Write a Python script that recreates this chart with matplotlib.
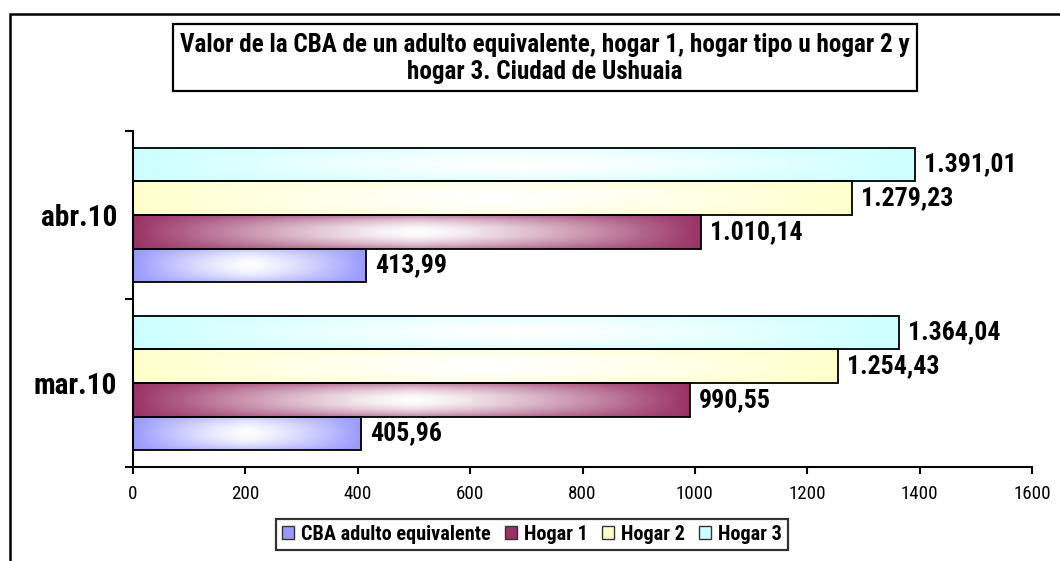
import numpy as np
import matplotlib
matplotlib.use("Agg")
import matplotlib.pyplot as plt
from matplotlib.patches import Rectangle, Patch
from matplotlib import font_manager
from matplotlib.font_manager import FontProperties
import matplotlib.colors as mcolors

# ---- data ----
categories = ["mar.10", "abr.10"]
series_names = ["CBA adulto equivalente", "Hogar 1", "Hogar 2", "Hogar 3"]
cba_values = [405.96, 413.99]
hogar1_values = [990.55, 1010.14]
hogar2_values = [1254.43, 1279.23]
hogar3_values = [1364.04, 1391.01]
series_colors = ["#9999FF", "#993366", "#FFFFCC", "#CCFFFF"]
x_ticks = [0, 200, 400, 600, 800, 1000, 1200, 1400, 1600]
title_lines = ["Valor de la CBA de un adulto equivalente, hogar 1, hogar tipo u hogar 2 y",
               "hogar 3. Ciudad de Ushuaia"]

all_values = [cba_values, hogar1_values, hogar2_values, hogar3_values]


# ---- pick a condensed sans font if one is installed ----
def _wnum(w):
    if isinstance(w, str):
        return font_manager.weight_dict.get(w, 400)
    return int(w)


def find_font(bold):
    target = 700 if bold else 400
    pref = ["Liberation Sans Narrow", "Arial Narrow", "Roboto Condensed",
            "Noto Sans", "DejaVu Sans", "Open Sans Condensed", "Open Sans"]
    ents = font_manager.fontManager.ttflist
    for pn in pref:
        best = None
        for f in ents:
            if f.name != pn or f.style != "normal":
                continue
            cond = ("Narrow" in f.name or "Condensed" in f.name or
                    "Narrow" in f.fname or "Condensed" in f.fname or
                    str(f.stretch) in ("condensed", "semi-condensed", "extra-condensed",
                                       "ultra-condensed"))
            if not cond:
                continue
            if "Semi" in f.fname or "Extra" in f.fname:
                continue
            d = abs(_wnum(f.weight) - target)
            if best is None or d < best[0]:
                best = (d, f.fname)
        if best is not None and best[0] <= 100:
            return best[1]
    return font_manager.findfont(FontProperties(family="Liberation Sans",
                                                weight="bold" if bold else "normal"))


BOLD_FILE = find_font(True)
REG_FILE = find_font(False)


def fp(bold, size):
    return FontProperties(fname=BOLD_FILE if bold else REG_FILE, size=size)


def fmt_es(v):
    s = f"{v:,.2f}"
    return s.replace(",", "X").replace(".", ",").replace("X", ".")


fig = plt.figure(figsize=(10.6, 5.61), dpi=100)
renderer = fig.canvas.get_renderer()


def fit_size(text, bold, target_px, ref=10.0):
    t = fig.text(0, 0, text, fontproperties=fp(bold, ref))
    w = t.get_window_extent(renderer).width
    t.remove()
    return ref * target_px / w


val_size = fit_size("1.391,01", True, 93)
cat_size = fit_size("abr.10", True, 77)
title_size = fit_size(title_lines[0], True, 730)
tick_size = fit_size("1600", False, 37)

ax = fig.add_axes([133 / 1060, 1 - 467 / 561, (1032 - 133) / 1060, (467 - 131) / 561])

y = np.arange(len(categories))
h = 0.2
xmin, xmax = 0, 1600


def gradient_img(color, n=64, m=256):
    base = np.array(mcolors.to_rgb(color))
    u = np.linspace(-1, 1, m)[None, :]
    v = np.linspace(-1, 1, n)[:, None]
    f = (1 - np.abs(u) ** 1.3) * (1 - 0.6 * v ** 2)
    f = np.clip(f, 0, 1)[..., None]
    return base + (1 - base) * f


for i, (vals, col, name) in enumerate(zip(all_values, series_colors, series_names)):
    offs = (i - 1.5) * h
    bars = ax.barh(y + offs, vals, height=h, fill=False, edgecolor="black",
                   linewidth=1.3, zorder=3)
    img = gradient_img(col)
    for b, v in zip(bars, vals):
        x0, y0 = b.get_x(), b.get_y()
        ax.imshow(img, extent=[x0, x0 + b.get_width(), y0, y0 + b.get_height()],
                  aspect="auto", interpolation="bilinear", zorder=2, origin="lower")
        ax.annotate(fmt_es(v), xy=(x0 + b.get_width(), y0 + b.get_height() / 2),
                    xytext=(6.5, 0), textcoords="offset points", va="center", ha="left",
                    fontproperties=fp(True, val_size), color="black", zorder=4)

ax.set_xlim(xmin, xmax)
ax.set_ylim(-0.5, len(categories) - 0.5)

# axes styling
for s in ["top", "right"]:
    ax.spines[s].set_visible(False)
ax.spines["left"].set_linewidth(1.5)
ax.spines["bottom"].set_linewidth(1.5)
ax.set_xticks(x_ticks)
ax.set_xticklabels([str(t) for t in x_ticks])
for lab in ax.get_xticklabels():
    lab.set_fontproperties(fp(False, tick_size))
ax.tick_params(axis="x", direction="out", length=5, width=1.5, pad=8)
ax.set_yticks(y)
ax.set_yticklabels(categories)
for lab in ax.get_yticklabels():
    lab.set_fontproperties(fp(True, cat_size))
ax.tick_params(axis="y", which="major", length=0, pad=11.5)
ax.set_yticks(np.arange(-0.5, len(categories)), minor=True)
ax.tick_params(axis="y", which="minor", direction="out", length=6, width=1.5)

# outer border (extends beyond right and bottom)
fig.patches.append(Rectangle((10 / 1060, -0.1), 1.2, 1 - 14 / 561 + 0.1,
                             transform=fig.transFigure, fill=False,
                             edgecolor="black", linewidth=1.8, zorder=0))

# title box
tx0, tx1, ty0, ty1 = 173 / 1060, 917 / 1060, 1 - 91 / 561, 1 - 24 / 561
fig.patches.append(Rectangle((tx0, ty0), tx1 - tx0, ty1 - ty0,
                             transform=fig.transFigure, fill=True, facecolor="white",
                             edgecolor="black", linewidth=1.6, zorder=1))
fig.text((tx0 + tx1) / 2, 1 - 45 / 561, title_lines[0], ha="center", va="center",
         fontproperties=fp(True, title_size))
fig.text((tx0 + tx1) / 2, 1 - 72 / 561, title_lines[1], ha="center", va="center",
         fontproperties=fp(True, title_size))

# legend
handles = [Patch(facecolor=c, edgecolor="#333333", linewidth=1.0) for c in series_colors]


def make_legend(size):
    lg = fig.legend(handles, series_names, loc="center",
                    bbox_to_anchor=(532 / 1060, 1 - 534.5 / 561),
                    ncol=4, frameon=True, fancybox=False, edgecolor="black",
                    handlelength=0.6, handleheight=0.6, handletextpad=0.35,
                    columnspacing=0.7, borderpad=0.3, borderaxespad=0,
                    prop=fp(True, size))
    lg.get_frame().set_linewidth(1.6)
    return lg


leg = make_legend(13.0)
lw = leg.get_window_extent(renderer).width
leg.remove()
leg = make_legend(13.0 * 510 / lw)

fig.savefig("out.png", dpi=100, facecolor="white")
